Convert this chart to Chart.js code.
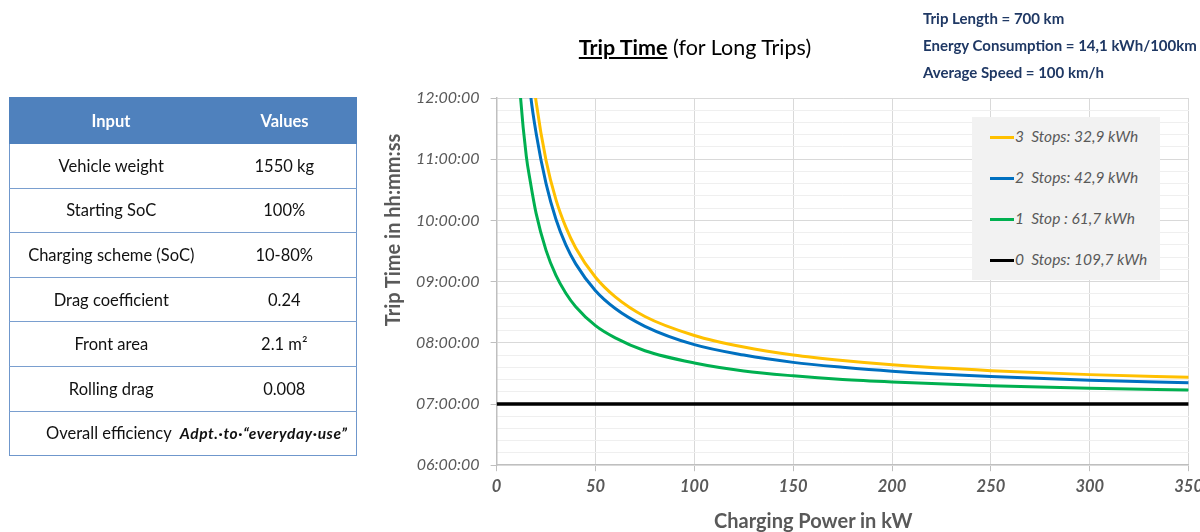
<!DOCTYPE html>
<html>
<head>
<meta charset="utf-8">
<script src="https://cdn.jsdelivr.net/npm/chart.js@4.4.1/dist/chart.umd.min.js"></script>
<style>
  html, body { margin:0; padding:0; background:#fff; }
  body { width:1200px; height:532px; position:relative; overflow:hidden; font-family: Lato, "Open Sans", sans-serif; }
  #wrap { position:absolute; left:0; top:0; width:1209px; height:532px; }
  #title { position:absolute; left:0; width:1390px; top:34px; text-align:center; font-size:21.5px; color:#000; }
  #title b { text-decoration:underline; }
  #info { position:absolute; left:923px; top:5px; font-size:15px; font-weight:bold; color:#1f3864; line-height:27px; white-space:nowrap; }
  #xtitle { position:absolute; left:714px; top:508px; font-size:20px; font-weight:bold; color:#595959; white-space:nowrap; }
  #ytitle { position:absolute; left:292px; top:218px; width:200px; height:24px; line-height:24px; text-align:center;
            transform:rotate(-90deg); transform-origin:50% 50%; font-size:20px; font-weight:bold; color:#595959; white-space:nowrap; }
  #legend { position:absolute; left:972px; top:117px; width:188px; height:163px; background:#f2f2f2; }
  .li { position:absolute; left:18px; font-size:15.5px; font-style:italic; color:#595959; white-space:pre; }
  .li span.sw { display:inline-block; width:24px; height:3px; vertical-align:middle; margin-right:1px; position:relative; top:-1px; }
  table { position:absolute; left:9px; top:97px; width:348px; border-collapse:collapse; font-size:16.5px; color:#111;
          border-left:1.5px solid #6f97cc; border-right:1.5px solid #6f97cc; border-bottom:1.5px solid #6f97cc; }
  th { background:#4f81bd; color:#fff; font-weight:bold; height:45px; padding:0; border:1px solid #4f81bd; }
  td { height:43.6px; padding:0; text-align:center; border-top:1.5px solid #7a9fcf; }
  span.it { font-weight:bold; font-style:italic; font-size:15.5px; letter-spacing:0.6px; }
</style>
</head>
<body>
<div id="wrap"><canvas id="c" width="1209" height="532"></canvas></div>
<div id="title"><b>Trip Time</b> (for Long Trips)</div>
<div id="info">Trip Length = 700 km<br>Energy Consumption = 14,1 kWh/100km<br>Average Speed = 100 km/h</div>
<div id="xtitle">Charging Power in kW</div>
<div id="ytitle">Trip Time in hh:mm:ss</div>
<div id="legend"></div>
<table>
  <tr><th style="width:202px">Input</th><th>Values</th></tr>
  <tr><td>Vehicle weight</td><td>1550 kg</td></tr>
  <tr><td>Starting SoC</td><td>100%</td></tr>
  <tr><td>Charging scheme (SoC)</td><td>10-80%</td></tr>
  <tr><td>Drag coefficient</td><td>0.24</td></tr>
  <tr><td>Front area</td><td>2.1 m²</td></tr>
  <tr><td>Rolling drag</td><td>0.008</td></tr>
  <tr><td colspan="2" style="text-align:left;padding-left:36px">Overall efficiency&nbsp; <span class="it">Adpt.·to·“everyday·use”</span></td></tr>
</table>
<script>
// Charging power (kW) at which values were read
const power = [10, 12, 15, 17, 20, 25, 30, 35, 40, 50, 60, 75, 100, 125, 150, 175, 200, 250, 300, 350];
// Trip time in hours
const stops3 = [16.7, 15.1, 13.5, 12.75, 11.93, 10.98, 10.34, 9.89, 9.55, 9.07, 8.75, 8.43, 8.12, 7.93, 7.80, 7.71, 7.64, 7.545, 7.48, 7.436];
const stops2 = [15.7, 14.3, 12.85, 12.1, 11.42, 10.6, 10.02, 9.6, 9.29, 8.85, 8.56, 8.27, 7.97, 7.80, 7.68, 7.60, 7.536, 7.448, 7.39, 7.348];
const stops1 = [13.15, 12.05, 11.05, 10.64, 10.11, 9.51, 9.10, 8.81, 8.59, 8.28, 8.08, 7.87, 7.67, 7.54, 7.46, 7.40, 7.36, 7.30, 7.258, 7.229];
const power0 = [0, 350];
const stops0 = [7.0, 7.0];
const seriesNames = ["3  Stops: 32,9 kWh", "2  Stops: 42,9 kWh", "1  Stop : 61,7 kWh", "0  Stops: 109,7 kWh"];
const seriesColors = ["#ffc000", "#0070c0", "#00b050", "#000000"];
const xTicks = [0, 50, 100, 150, 200, 250, 300, 350];
const yTicks = [6, 7, 8, 9, 10, 11, 12];

const pts = (xs, ys) => xs.map((x, i) => ({x: x, y: ys[i]}));
const sets = [pts(power, stops3), pts(power, stops2), pts(power, stops1), pts(power0, stops0)];

const fmt = v => String(Math.round(v)).padStart(2, '0') + ':00:00';

new Chart(document.getElementById('c'), {
  type: 'line',
  data: {
    datasets: sets.map((d, i) => ({
      label: seriesNames[i], data: d, borderColor: seriesColors[i], backgroundColor: seriesColors[i],
      borderWidth: i === 3 ? 3.5 : 3, pointRadius: 0, cubicInterpolationMode: 'monotone', fill: false
    }))
  },
  options: {
    responsive: false, animation: false,
    layout: { padding: { left: 405, top: 98, right: 0, bottom: 29 } },
    plugins: { legend: { display: false }, tooltip: { enabled: false } },
    scales: {
      x: {
        type: 'linear', min: 0, max: 350,
        afterBuildTicks: a => { a.ticks = xTicks.map(v => ({value: v})); },
        ticks: { font: { family: 'Lato', size: 16.5, style: 'italic', weight: 'bold' }, color: '#595959', padding: 6 },
        grid: { color: '#d9d9d9', tickLength: 6, tickColor: '#bfbfbf' },
        border: { color: '#bfbfbf', width: 1.5 }
      },
      y: {
        min: 6, max: 12,
        afterBuildTicks: a => { a.ticks = yTicks.map(v => ({value: v})); },
        ticks: { callback: v => fmt(v), font: { family: 'Lato', size: 16, style: 'italic' }, color: '#595959', padding: 11 },
        grid: { color: '#d9d9d9', tickLength: 6, tickColor: '#bfbfbf', z: 0 },
        border: { color: '#bfbfbf', width: 1.5 }
      },
      yMinor: {
        position: 'right', min: 6, max: 12,
        ticks: { display: false, stepSize: 0.2 },
        grid: { drawTicks: false, z: -1, color: c => (Math.abs(c.tick.value - Math.round(c.tick.value)) < 1e-6 ? 'rgba(0,0,0,0)' : '#efefef') },
        border: { display: false }
      }
    }
  }
});

const leg = document.getElementById('legend');
seriesNames.forEach((n, i) => {
  const d = document.createElement('div');
  d.className = 'li';
  d.style.top = (10 + i * 41) + 'px';
  d.innerHTML = '<span class="sw" style="background:' + seriesColors[i] + '"></span>' + n;
  leg.appendChild(d);
});
</script>
</body>
</html>
